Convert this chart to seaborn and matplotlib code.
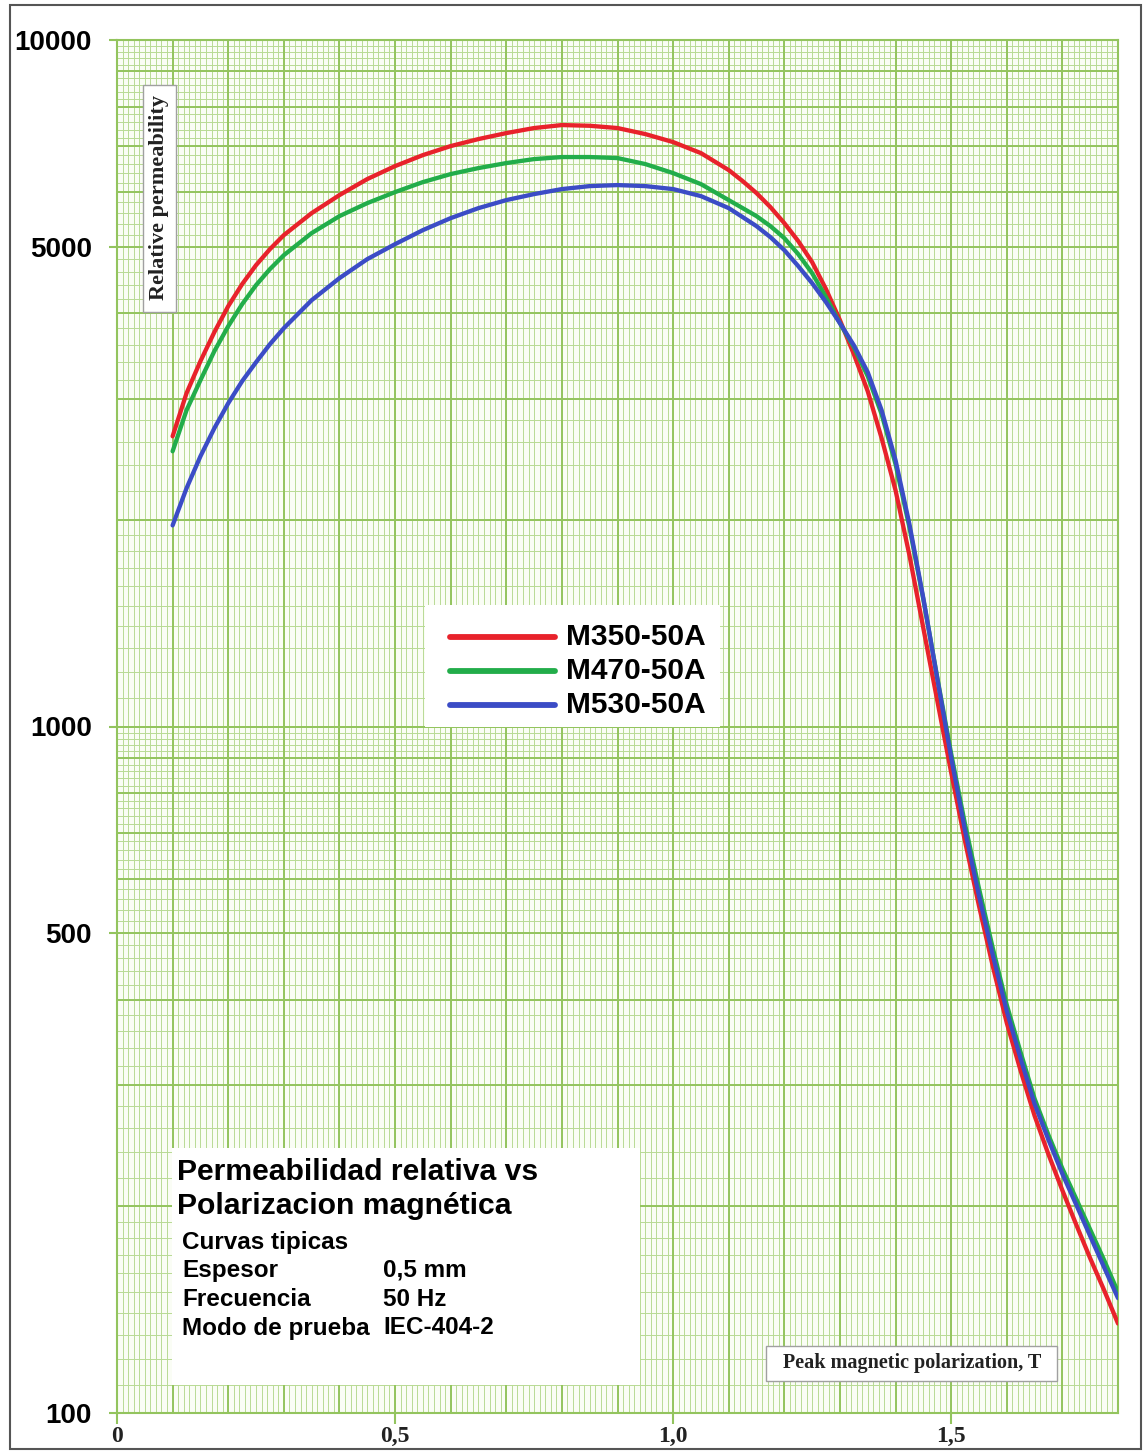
import numpy as np
import pandas as pd
import matplotlib
matplotlib.use("Agg")
import matplotlib.pyplot as plt
import seaborn as sns
from matplotlib.patches import Rectangle

# ---------------- data ----------------
B = [0.1, 0.125, 0.15, 0.175, 0.2, 0.225, 0.25, 0.275, 0.3,
     0.35, 0.4, 0.45, 0.5, 0.55, 0.6, 0.65, 0.7, 0.75, 0.8, 0.85, 0.9, 0.95,
     1.0, 1.05, 1.1, 1.125, 1.15, 1.175, 1.2, 1.225, 1.25,
     1.275, 1.3, 1.325, 1.35, 1.375, 1.4, 1.425, 1.45, 1.475, 1.5, 1.525, 1.55,
     1.575, 1.6, 1.625, 1.65, 1.675, 1.7, 1.725, 1.75, 1.775, 1.8]
mu_m350 = [2647, 3058, 3405, 3753, 4095, 4409, 4699, 4958, 5197,
           5595, 5944, 6272, 6551, 6797, 7006, 7173, 7318, 7443, 7518, 7500, 7443, 7294,
           7101, 6843, 6464, 6230, 5984, 5709, 5410, 5094, 4747,
           4335, 3907, 3486, 3078, 2629, 2208, 1775, 1390, 1091, 857, 680, 548,
           447, 370, 315, 271, 238, 211, 188, 168, 151, 135]
mu_m470 = [2517, 2888, 3194, 3521, 3829, 4122, 4394, 4637, 4859,
           5232, 5539, 5786, 6004, 6209, 6378, 6508, 6618, 6707, 6753, 6753, 6730, 6596,
           6399, 6167, 5845, 5690, 5539, 5356, 5145, 4876, 4574,
           4220, 3868, 3569, 3238, 2850, 2410, 1950, 1531, 1179, 913, 720, 581,
           475, 393, 335, 287, 254, 227, 205, 185, 167, 150]
mu_m530 = [1963, 2223, 2475, 2719, 2957, 3184, 3393, 3605, 3804,
           4178, 4499, 4795, 5042, 5285, 5502, 5690, 5845, 5964, 6065, 6126, 6147, 6126,
           6065, 5924, 5690, 5521, 5356, 5162, 4942, 4684, 4423,
           4150, 3868, 3592, 3281, 2888, 2442, 1970, 1537, 1175, 901, 705, 567,
           464, 385, 328, 282, 250, 223, 201, 181, 163, 147]
grades = ["M350-50A", "M470-50A", "M530-50A"]
colors = ["#e8222b", "#22ad4a", "#3b4cc6"]

y_ticks = [100, 500, 1000, 5000, 10000]
y_tick_labels = ["100", "500", "1000", "5000", "10000"]
x_ticks = [0, 0.5, 1.0, 1.5]
x_tick_labels = ["0", "0,5", "1,0", "1,5"]

info_title = ["Permeabilidad relativa vs", "Polarizacion magnética"]
info_rows = [("Curvas tipicas", ""), ("Espesor", "0,5 mm"),
             ("Frecuencia", "50 Hz"), ("Modo de prueba", "IEC-404-2")]

df = pd.DataFrame({
    "B": B * 3,
    "mu": mu_m350 + mu_m470 + mu_m530,
    "grade": [g for g in grades for _ in B],
})

# ---------------- figure ----------------
sns.set_theme(style="white")
plt.rcParams["font.family"] = ["Liberation Sans", "DejaVu Sans"]

W, H = 1146, 1452
fig = plt.figure(figsize=(W / 100, H / 100), dpi=100, facecolor="white")

def fx(px):
    return px / W

def fy(py):
    return 1 - py / H

ax_l, ax_r, ax_t, ax_b = 117, 1118, 40, 1413
ax = fig.add_axes([fx(ax_l), fy(ax_b), fx(ax_r) - fx(ax_l), fy(ax_t) - fy(ax_b)])
ax.set_facecolor("#fafdf5")
ax.set_yscale("log")
ax.set_xlim(0, 1.8)
ax.set_ylim(100, 10000)

major_c = "#93c45e"
minor_c = "#b8da94"

# graph-paper grid
xs_minor = np.arange(0, 1.8001, 0.01)
ax.vlines(xs_minor, 100, 10000, colors=minor_c, lw=0.7, zorder=0.5)
xs_major = np.arange(0, 1.8001, 0.1)
ax.vlines(xs_major, 100, 10000, colors=major_c, lw=1.4, zorder=0.6)
for dec in [100, 1000]:
    minor = list(np.arange(1, 2, 0.1)) + list(np.arange(2, 10, 0.2))
    ax.hlines([m * dec for m in minor], 0, 1.8, colors=minor_c, lw=0.7, zorder=0.5)
    ax.hlines([k * dec for k in range(1, 11)], 0, 1.8, colors=major_c, lw=1.4,
              zorder=0.6)

sns.lineplot(data=df, x="B", y="mu", hue="grade", palette=colors, lw=3.1,
             legend=False, ax=ax, sort=False, estimator=None, zorder=3)
for ln in ax.get_lines():
    ln.set_solid_joinstyle("round")

for s in ax.spines.values():
    s.set_color(major_c)
    s.set_linewidth(1.5)

ax.set_xlabel("")
ax.set_ylabel("")
ax.set_yticks(y_ticks)
ax.set_yticklabels(y_tick_labels, fontfamily="Liberation Sans", fontweight="bold",
                   fontsize=20, color="black")
ax.yaxis.set_minor_locator(matplotlib.ticker.NullLocator())
ax.set_xticks(x_ticks)
ax.set_xticklabels(x_tick_labels, fontfamily="Liberation Serif", fontweight="bold",
                   fontsize=17, color="#222222")
ax.tick_params(axis="y", which="major", left=True, length=6, width=1.5,
               color=major_c, pad=12)
ax.tick_params(axis="x", which="major", bottom=True, length=8, width=1.5,
               color=major_c, pad=1)

# ---------------- boxes ----------------
def box(x0, y0, x1, y1, edge="none", lw=1.0):
    r = Rectangle((fx(x0), fy(y1)), fx(x1) - fx(x0), fy(y0) - fy(y1),
                  transform=fig.transFigure, facecolor="white",
                  edgecolor=edge, lw=lw, zorder=2)
    fig.add_artist(r)

# Relative permeability label
box(143, 85, 176, 312, edge="#a0a0a0", lw=1.0)
fig.text(fx(159), fy(198), "Relative permeability", rotation=90, ha="center",
         va="center", fontfamily="Liberation Serif", fontweight="bold",
         fontsize=16, color="#222222", zorder=4)

# Legend
box(425, 605, 720, 727)
for i, (g, c) in enumerate(zip(grades, colors)):
    yy = 637 + i * 34
    fig.add_artist(plt.Line2D([fx(450), fx(555)], [fy(yy), fy(yy)], color=c,
                              lw=4.2, transform=fig.transFigure, zorder=4,
                              solid_capstyle="round"))
    fig.text(fx(566), fy(yy), g, ha="left", va="center", fontsize=21.5,
             fontweight="bold", fontfamily="Liberation Sans", color="black",
             zorder=4)

# Info box
box(172, 1148, 640, 1385)
for i, t in enumerate(info_title):
    fig.text(fx(177), fy(1172 + i * 34), t, ha="left", va="center", fontsize=21.7,
             fontweight="bold", fontfamily="Liberation Sans", color="black", zorder=4)
row_y = [1242, 1270, 1300, 1328]
for (k, v), yy in zip(info_rows, row_y):
    fig.text(fx(182), fy(yy), k, ha="left", va="center", fontsize=17.5,
             fontweight="bold", fontfamily="Liberation Sans", color="black", zorder=4)
    if v:
        fig.text(fx(383), fy(yy), v, ha="left", va="center", fontsize=17.5,
                 fontweight="bold", fontfamily="Liberation Sans", color="black",
                 zorder=4)

# x-axis caption box
box(766, 1346, 1057, 1381, edge="#a0a0a0", lw=1.0)
fig.text(fx(912), fy(1363), "Peak magnetic polarization, T", ha="center",
         va="center", fontfamily="Liberation Serif", fontweight="bold",
         fontsize=14.5, color="#222222", zorder=4)

# outer frame
fig.add_artist(Rectangle((fx(10), fy(1449)), fx(1141) - fx(10), fy(5) - fy(1449),
                         transform=fig.transFigure, facecolor="none",
                         edgecolor="#555555", lw=1.5, zorder=5))

fig.savefig("out.png", dpi=100, facecolor="white")
